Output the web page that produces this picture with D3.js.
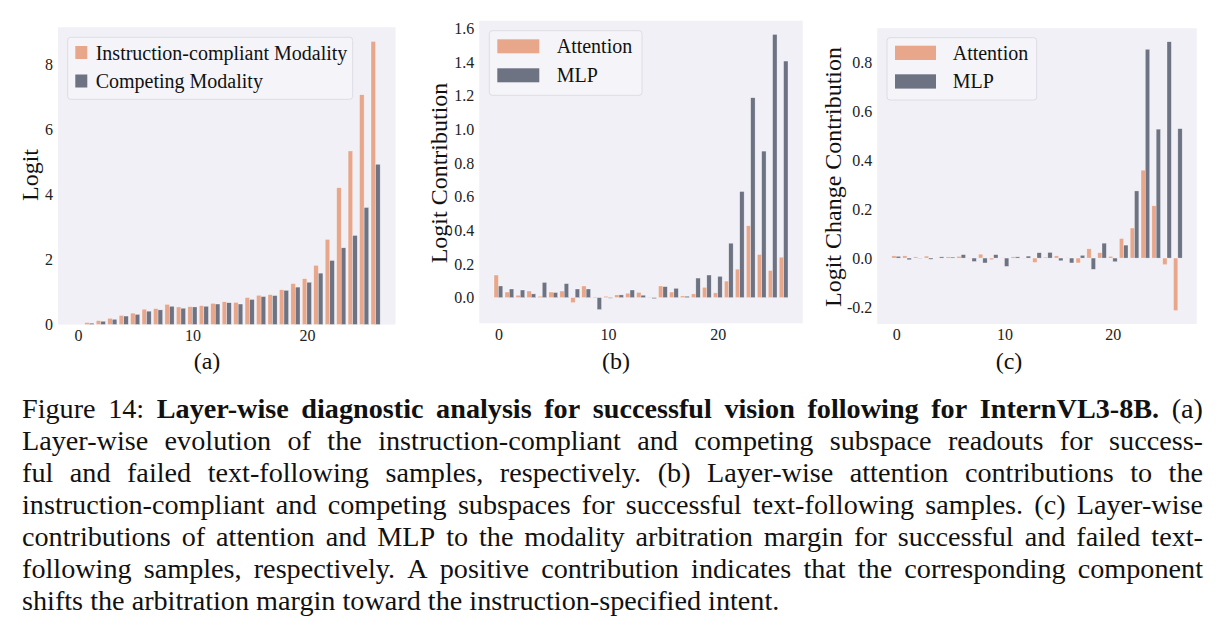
<!DOCTYPE html>
<html lang="en">
<head>
<meta charset="UTF-8">
<title>Figure 14</title>
<style>
  body { margin: 0; background: #fff; }
  svg { font-family: "Liberation Serif", "Times New Roman", serif; }
</style>
</head>
<body>
<svg id="fig" width="1223" height="641"></svg>
<script src="https://cdn.jsdelivr.net/npm/d3@7"></script>
<script>
// layers 0..26
const layers = [0,1,2,3,4,5,6,7,8,9,10,11,12,13,14,15,16,17,18,19,20,21,22,23,24,25,26];

// (a) subspace readouts
const compliant = [0.0,0.06,0.12,0.19,0.28,0.35,0.47,0.49,0.62,0.54,0.55,0.58,0.65,0.70,0.68,0.83,0.90,0.92,1.07,1.26,1.41,1.82,2.62,4.21,5.34,7.07,8.71];
const competing = [0.0,0.04,0.10,0.16,0.26,0.31,0.41,0.45,0.56,0.50,0.54,0.56,0.63,0.67,0.63,0.77,0.86,0.89,1.05,1.15,1.30,1.58,1.97,2.36,2.74,3.60,4.93];

// (b) logit contributions
const attnB = [0.134,0.033,0.014,0.039,0.008,0.033,0.039,-0.030,0.069,0.004,0.008,0.016,0.026,0.031,0.002,0.069,0.033,0.010,0.022,0.061,0.028,0.098,0.169,0.427,0.256,0.161,0.240];
const mlpB  = [0.069,0.051,0.045,0.022,0.090,0.030,0.083,0.051,0.051,-0.071,-0.004,0.016,0.045,0.014,-0.006,0.065,0.055,0.008,0.116,0.134,0.126,0.323,0.630,1.187,0.870,1.563,1.405];

// (c) logit change contributions
const attnC = [0.009,0.009,0.005,0.008,0.001,0.005,0.007,-0.001,0.016,-0.007,0.001,0.005,-0.001,-0.018,0.004,0.009,0.001,-0.020,0.038,0.022,0.007,0.080,0.123,0.360,0.214,-0.027,-0.215];
const mlpC  = [0.007,-0.007,-0.001,-0.005,0.005,0.004,0.014,-0.014,-0.020,0.014,-0.034,0.005,0.008,0.022,0.023,-0.011,-0.020,0.011,-0.046,0.061,-0.015,0.053,0.275,0.855,0.528,0.886,0.530];

const xTicks = [0, 10, 20];
const yTicksA = [0, 2, 4, 6, 8];
const yTicksB = [0, 0.2, 0.4, 0.6, 0.8, 1.0, 1.2, 1.4, 1.6];
const yTicksC = [-0.2, 0, 0.2, 0.4, 0.6, 0.8];

const orange = '#e8a78b';
const slate = '#6d7382';
const bg = '#f0f0f6';

const svg = d3.select('#fig');

const panels = [
  { x0: 58, x1: 395.5, y0: 27.3, y1: 324.5, s1: compliant, s2: competing,
    names: ['Instruction-compliant Modality', 'Competing Modality'], ticks: yTicksA, fmt: d => d.toFixed(0),
    ylabel: 'Logit', ylx: 30, yly: 175, tag: '(a)', tagx: 207, zeroFloor: true,
    legend: { x: 67.7, y: 37.3, w: 285, h: 62, pw: 12, ph: 13, px: 75.3, tx: 95.7, rows: [46, 74.5] } },
  { x0: 479.3, x1: 802.7, y0: 20.7, y1: 323.3, s1: attnB, s2: mlpB,
    names: ['Attention', 'MLP'], ticks: yTicksB, fmt: d => d.toFixed(1),
    ylabel: 'Logit Contribution', ylx: 439, yly: 173, tag: '(b)', tagx: 616,
    legend: { x: 489.3, y: 30.7, w: 152.7, h: 64.6, pw: 42, ph: 14, px: 497.3, tx: 556.7, rows: [39.3, 68.3] } },
  { x0: 877.3, x1: 1196.7, y0: 28.3, y1: 324, s1: attnC, s2: mlpC,
    names: ['Attention', 'MLP'], ticks: yTicksC, fmt: d => d.toFixed(1),
    ylabel: 'Logit Change Contribution', ylx: 833, yly: 177, tag: '(c)', tagx: 1009,
    legend: { x: 887, y: 37.7, w: 149.7, h: 62.3, pw: 41, ph: 14.3, px: 895, tx: 952.7, rows: [45.7, 74.3] } }
];

panels.forEach(p => {
  const g = svg.append('g');
  const lo = d3.min([...p.s1, ...p.s2]), hi = d3.max([...p.s1, ...p.s2]);
  const pad = (hi - Math.min(lo, 0)) * 0.05;
  const x = d3.scaleLinear().domain([-0.4 - 1.34, 26.4 + 1.34]).range([p.x0, p.x1]);
  const y = d3.scaleLinear()
    .domain([p.zeroFloor ? 0 : Math.min(lo, 0) - pad, hi + pad])
    .range([p.y1, p.y0]);

  g.append('rect').attr('x', p.x0).attr('y', p.y0)
    .attr('width', p.x1 - p.x0).attr('height', p.y1 - p.y0).attr('fill', bg);

  const bw = x(0.4) - x(0);
  [[p.s1, -0.4, orange], [p.s2, 0, slate]].forEach(([vals, off, col]) => {
    g.selectAll(null).data(layers).enter().append('rect')
      .attr('x', d => x(d + off))
      .attr('width', bw)
      .attr('y', d => y(Math.max(0, vals[d])))
      .attr('height', d => Math.abs(y(vals[d]) - y(0)))
      .attr('fill', col)
      .attr('stroke', '#ffffff').attr('stroke-width', 0.5).attr('stroke-opacity', 0.6);
  });

  const ax = g.append('g').attr('transform', `translate(0,${p.y1})`)
    .call(d3.axisBottom(x).tickValues(xTicks).tickSize(0).tickPadding(5));
  const ay = g.append('g').attr('transform', `translate(${p.x0},0)`)
    .call(d3.axisLeft(y).tickValues(p.ticks).tickFormat(p.fmt).tickSize(0).tickPadding(5));
  [ax, ay].forEach(a => {
    a.select('.domain').remove();
    a.selectAll('text').attr('font-size', 16).attr('fill', '#222')
      .attr('font-family', '"Liberation Serif", "Times New Roman", serif');
  });

  g.append('text')
    .attr('transform', `translate(${p.ylx},${p.yly}) rotate(-90)`)
    .attr('text-anchor', 'middle').attr('dominant-baseline', 'central')
    .attr('font-size', 24).attr('fill', '#111').text(p.ylabel);

  g.append('text').attr('x', p.tagx).attr('y', 369)
    .attr('text-anchor', 'middle').attr('font-size', 24).attr('fill', '#111').text(p.tag);

  const L = p.legend;
  g.append('rect').attr('x', L.x).attr('y', L.y).attr('width', L.w).attr('height', L.h)
    .attr('rx', 3).attr('fill', '#f5f5f9').attr('stroke', '#dcdce4').attr('stroke-width', 1);
  [orange, slate].forEach((col, i) => {
    g.append('rect').attr('x', L.px).attr('y', L.rows[i]).attr('width', L.pw).attr('height', L.ph)
      .attr('fill', col);
    g.append('text').attr('x', L.tx).attr('y', L.rows[i] + L.ph / 2)
      .attr('dominant-baseline', 'central').attr('font-size', 20).attr('fill', '#111')
      .text(p.names[i]);
  });
});

// caption, justified between capL and capR
const capL = 22, capR = 1203, capSize = 28.2;
const capLines = [
  [['Figure', 0], ['14:', 0], ['Layer-wise', 1], ['diagnostic', 1], ['analysis', 1], ['for', 1], ['successful', 1],
   ['vision', 1], ['following', 1], ['for', 1], ['InternVL3-8B.', 1], ['(a)', 0]],
  'Layer-wise evolution of the instruction-compliant and competing subspace readouts for success-',
  'ful and failed text-following samples, respectively. (b) Layer-wise attention contributions to the',
  'instruction-compliant and competing subspaces for successful text-following samples. (c) Layer-wise',
  'contributions of attention and MLP to the modality arbitration margin for successful and failed text-',
  'following samples, respectively. A positive contribution indicates that the corresponding component',
  'shifts the arbitration margin toward the instruction-specified intent.'
];

const cap = svg.append('g').attr('font-size', capSize).attr('fill', '#111');
capLines.forEach((line, li) => {
  const words = typeof line === 'string' ? line.split(' ').map(w => [w, 0]) : line;
  const baseY = 418 + li * 32;
  const nodes = words.map(([w, b]) => cap.append('text').attr('y', baseY)
    .attr('font-weight', b ? 'bold' : 'normal').text(w));
  const widths = nodes.map(n => n.node().getComputedTextLength());
  const total = d3.sum(widths);
  const last = li === capLines.length - 1;
  const gap = last ? capSize * 0.25 : (capR - capL - total) / (words.length - 1);
  let cx = capL;
  nodes.forEach((n, i) => { n.attr('x', cx); cx += widths[i] + gap; });
});
</script>
</body>
</html>
